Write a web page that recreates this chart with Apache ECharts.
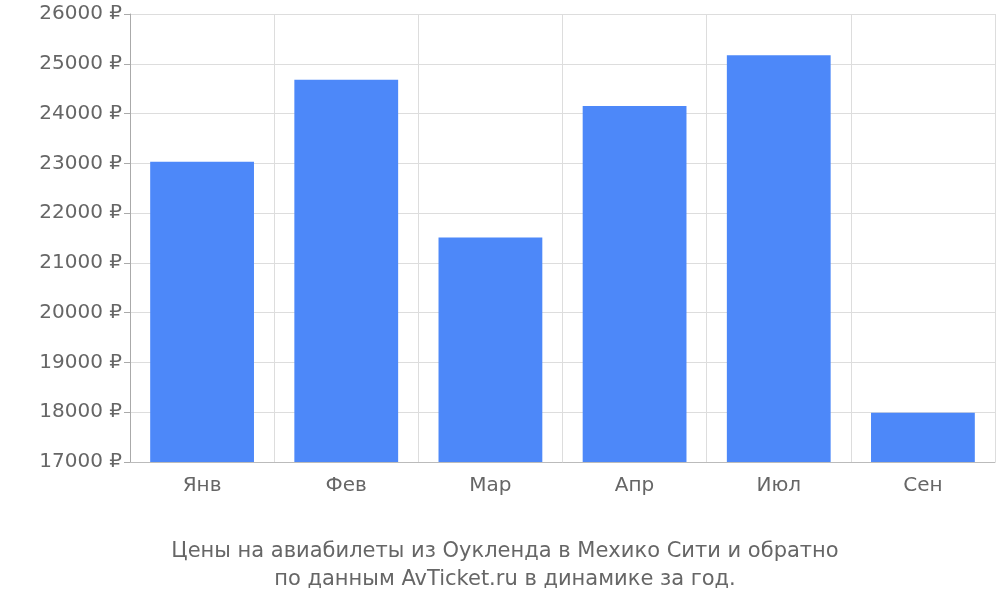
<!DOCTYPE html>
<html><head><meta charset="utf-8">
<script src="https://cdn.jsdelivr.net/npm/echarts@6/dist/echarts.min.js"></script>
<style>html,body{margin:0;padding:0;background:#fff}#c{width:1000px;height:600px}</style>
</head><body><div id="c"></div>
<script>
const categories = ['Янв','Фев','Мар','Апр','Июл','Сен'];
const prices = [23030, 24680, 21510, 24150, 25170, 17990];
const titleLines = ['Цены на авиабилеты из Оукленда в Мехико Сити и обратно','по данным AvTicket.ru в динамике за год.'];
const chart = echarts.init(document.getElementById('c'));
chart.setOption({
  animation:false,
  textStyle:{fontFamily:'DejaVu Sans'},
  title:{text:titleLines.join('\n'),left:500,textAlign:'center',top:533,
    textStyle:{fontFamily:'DejaVu Sans',fontSize:21,fontWeight:'normal',color:'#666',lineHeight:28}},
  grid:{left:130,right:5,top:14,bottom:138},
  xAxis:{type:'category',data:categories,
    axisLine:{lineStyle:{color:'#bbb'}},
    axisTick:{length:18,lineStyle:{color:'#bbb'}},
    splitLine:{show:true,lineStyle:{color:'#ddd'}},
    axisLabel:{fontSize:20,color:'#666',margin:14}},
  yAxis:{type:'value',min:17000,max:26000,interval:1000,
    axisLine:{show:true,lineStyle:{color:'#aaa'}},
    axisTick:{show:true,length:6,lineStyle:{color:'#aaa'}},
    splitLine:{lineStyle:{color:'#ddd'}},
    axisLabel:{fontSize:20,color:'#666',margin:8,formatter:v=>v+' ₽'}},
  series:[{type:'bar',data:prices,barCategoryGap:'28%',itemStyle:{color:'#4d88f9'}}]
});
</script></body></html>
